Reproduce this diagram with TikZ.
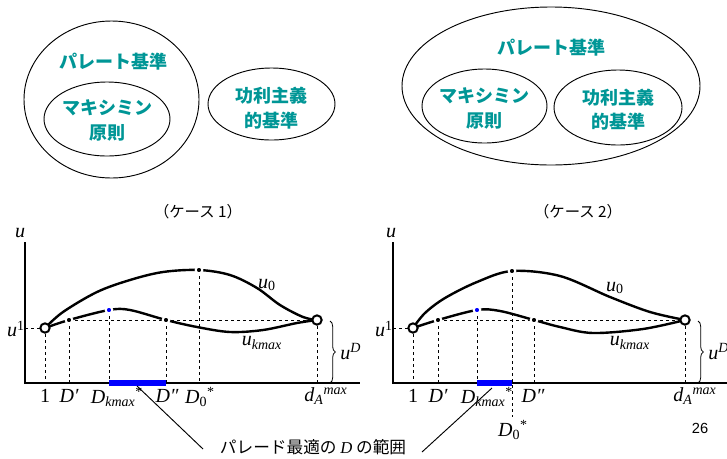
\documentclass[tikz,border=0pt]{standalone}
\usepackage{fontspec}
\newfontfamily\jp{Noto Sans CJK JP}
\newfontfamily\arialf{Liberation Sans}
\newfontfamily\tms{Liberation Serif}
\usetikzlibrary{decorations.pathreplacing}
\definecolor{tealtext}{RGB}{0,150,150}
\newcommand{\itx}[1]{{\itshape #1}}
\begin{document}
\begin{tikzpicture}[x=0.75pt,y=-0.75pt,
  tealtxt/.style={font=\jp\bfseries\fontsize{13.5}{18.5}\selectfont, text=tealtext, align=center, inner sep=0},
  setell/.style={draw, line width=0.7pt},
  axis/.style={line width=0.9pt},
  guide/.style={line width=0.6pt, dash pattern=on 2.5pt off 2pt},
  curve/.style={line width=1.8pt, line cap=round},
  dotb/.style={circle, fill=black, draw=white, line width=1.5pt, inner sep=0, minimum size=5pt},
  dotblue/.style={dotb, fill=blue},
  opendot/.style={circle, fill=white, draw=black, line width=1.5pt, inner sep=0, minimum size=7pt},
  mlabel/.style={font=\tms\fontsize{15}{17}\selectfont, inner sep=0},
  caption/.style={font=\jp\fontsize{11.5}{13}\selectfont, inner sep=0},
  bar/.style={blue, line width=3.8pt},
  leader/.style={line width=0.7pt},
  ubrace/.style={decorate, decoration={brace, amplitude=4pt}, line width=0.6pt}
]
\useasboundingbox (0,0) rectangle (727,458);
\clip (0,0) rectangle (727,458);

% ---------- top left: sets ----------
\draw[setell] (111.5,99.5) ellipse [x radius=87.5, y radius=78.5];
\draw[setell] (107,119) ellipse [x radius=63, y radius=37];
\draw[setell] (271.5,104) ellipse [x radius=63.5, y radius=36];
\node[tealtxt] (pa1) at (113,62) {パレート基準};
\node[tealtxt] (mx1) at (107,120.5) {マキシミン\\原則};
\node[tealtxt] (ut1) at (271.5,108) {功利主義\\的基準};

% ---------- top right: sets ----------
\draw[setell] (551,86) ellipse [x radius=149, y radius=79];
\draw[setell] (484.5,106) ellipse [x radius=62.5, y radius=37];
\draw[setell] (618,107.5) ellipse [x radius=64, y radius=37.5];
\node[tealtxt] (pa2) at (551,48) {パレート基準};
\node[tealtxt] (mx2) at (484.5,108.5) {マキシミン\\原則};
\node[tealtxt] (ut2) at (618,109.5) {功利主義\\的基準};

% ---------- captions ----------
\node[caption] (c1) at (198,212) {（ケース 1）};
\node[caption] (c2) at (578,212) {（ケース 2）};

% ================= chart 1 =================
\coordinate (o1) at (25,383);
\coordinate (yt1) at (25,242);
\coordinate (xe1) at (360,383);
\node[mlabel] (ul1) at (20,233) {\itx{u}};

\coordinate (s1) at (45,328);
\coordinate (dp1) at (69,320);
\coordinate (bk1) at (109,310);
\coordinate (dq1) at (166,320);
\coordinate (pk1) at (199,270);
\coordinate (e1) at (317,320);
\coordinate (fs1) at (45,383);
\coordinate (fdp1) at (69,383);
\coordinate (fbk1) at (109,383);
\coordinate (fdq1) at (166,383);
\coordinate (fpk1) at (199,383);
\coordinate (fe1) at (317,383);

\draw[guide] (o1 |- s1) -- (s1);
\draw[guide] (dp1) -- (e1);
\foreach \a/\b in {s1/fs1, dp1/fdp1, bk1/fbk1, dq1/fdq1, pk1/fpk1, e1/fe1}
  \draw[guide] (\a) -- (\b);

\draw[axis] (yt1) -- (o1) -- (xe1);
\draw[bar] (fbk1) -- (fdq1);

\draw[curve] plot[smooth, tension=0.55] coordinates {(45,328) (63,312) (97,292) (130,280) (163,272) (199,270) (230,275) (257,288) (280,305) (303,317) (317,320)};
\draw[curve] plot[smooth, tension=0.55] coordinates {(45,328) (69,320) (109,310) (130,310) (166,320) (197,327) (230,332) (263,330) (297,323) (317,320)};

\node[dotb] (Ndp1) at (dp1) {};
\node[dotblue] (Nbk1) at (bk1) {};
\node[dotb] (Ndq1) at (dq1) {};
\node[dotb] (Npk1) at (pk1) {};
\node[opendot] (Ns1) at (s1) {};
\node[opendot] (Ne1) at (e1) {};

\node[mlabel, anchor=east] (u11) at (25,329) {\itx{u}\textsuperscript{1}};
\node[mlabel] (u01) at (267,285) {\itx{u}\textsubscript{0}};
\node[mlabel] (uk1) at (262,343) {\itx{u}\textsubscript{\itx{kmax}}};
\draw[ubrace] (330,321) -- (330,383);
\node[mlabel, anchor=west] (uD1) at (340,352) {\itx{u}\textsuperscript{\itx{D}}};

\node[mlabel] (l11) at (45,396) {1};
\node[mlabel] (l21) at (69,396) {\itx{D′}};
\node[mlabel] (l31) at (117,397) {\itx{D}\textsubscript{\itx{kmax}}\textsuperscript{*}};
\node[mlabel] (l41) at (167,396) {\itx{D″}};
\node[mlabel] (l51) at (200,397) {\itx{D}\textsubscript{0}\textsuperscript{*}};
\node[mlabel] (l61) at (326,396) {\itx{d}\textsubscript{\itx{A}}\textsuperscript{\itx{max}}};

% ================= chart 2 =================
\coordinate (o2) at (393,383);
\coordinate (yt2) at (393,242);
\coordinate (xe2) at (727,383);
\node[mlabel] (ul2) at (391,233) {\itx{u}};

\coordinate (s2) at (413,328);
\coordinate (dp2) at (438,320);
\coordinate (bk2) at (477,310);
\coordinate (pk2) at (512,271);
\coordinate (dq2) at (534,320);
\coordinate (e2) at (685,320);
\coordinate (fs2) at (413,383);
\coordinate (fdp2) at (438,383);
\coordinate (fbk2) at (477,383);
\coordinate (fpk2) at (512,383);
\coordinate (fpk2b) at (512,417);
\coordinate (fdq2) at (534,383);
\coordinate (fe2) at (685,383);

\draw[guide] (o2 |- s2) -- (s2);
\draw[guide] (dp2) -- (e2);
\foreach \a/\b in {s2/fs2, dp2/fdp2, bk2/fbk2, pk2/fpk2b, dq2/fdq2, e2/fe2}
  \draw[guide] (\a) -- (\b);

\draw[axis] (yt2) -- (o2) -- (xe2);
\draw[bar] (fbk2) -- (fpk2);

\draw[curve] plot[smooth, tension=0.55] coordinates {(413,328) (425,313) (445,298) (477,282) (512,271) (560,276) (610,297) (650,312) (685,320)};
\draw[curve] plot[smooth, tension=0.55] coordinates {(413,328) (438,320) (477,310) (500,311) (534,320) (560,327) (593,333) (643,329) (685,320)};

\node[dotb] (Ndp2) at (dp2) {};
\node[dotblue] (Nbk2) at (bk2) {};
\node[dotb] (Ndq2) at (dq2) {};
\node[dotb] (Npk2) at (pk2) {};
\node[opendot] (Ns2) at (s2) {};
\node[opendot] (Ne2) at (e2) {};

\node[mlabel, anchor=east] (u12) at (393,329) {\itx{u}\textsuperscript{1}};
\node[mlabel] (u02) at (615,288) {\itx{u}\textsubscript{0}};
\node[mlabel] (uk2) at (630,343) {\itx{u}\textsubscript{\itx{kmax}}};
\draw[ubrace] (698,321) -- (698,383);
\node[mlabel, anchor=west] (uD2) at (708,352) {\itx{u}\textsuperscript{\itx{D}}};

\node[mlabel] (l12) at (413,396) {1};
\node[mlabel] (l22) at (438,396) {\itx{D′}};
\node[mlabel] (l32) at (487,397) {\itx{D}\textsubscript{\itx{kmax}}\textsuperscript{*}};
\node[mlabel] (l42) at (533,396) {\itx{D″}};
\node[mlabel] (l52) at (513,430) {\itx{D}\textsubscript{0}\textsuperscript{*}};
\node[mlabel] (l62) at (695,396) {\itx{d}\textsubscript{\itx{A}}\textsuperscript{\itx{max}}};
\node[font=\arialf\fontsize{11}{13}\selectfont, inner sep=0] (pg) at (700,428) {26};

% ---------- bottom label and leaders ----------
\node[font=\jp\fontsize{12.5}{15}\selectfont, inner sep=0] (pr) at (313,447) {パレード最適の {\tms\itshape D} の範囲};
\coordinate (la1) at (137,386);
\coordinate (lb1) at (203,449);
\coordinate (la2) at (492,388);
\coordinate (lb2) at (422,452);
\draw[leader] (la1) -- (lb1);
\draw[leader] (la2) -- (lb2);
\end{tikzpicture}
\end{document}
